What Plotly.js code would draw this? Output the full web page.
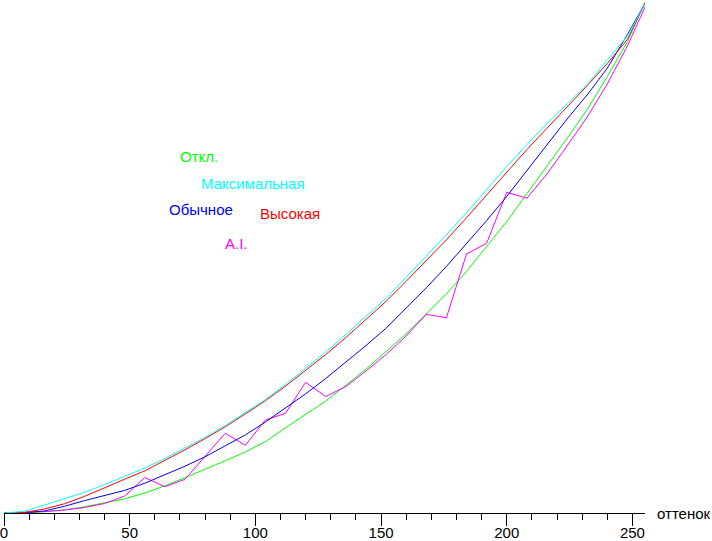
<!DOCTYPE html>
<html>
<head>
<meta charset="utf-8">
<script src="https://cdn.plot.ly/plotly-3.0.1.min.js"></script>
<style>
html,body{margin:0;padding:0;background:#fff;}
#chart{width:712px;height:541px;}
</style>
</head>
<body>
<div id="chart"></div>
<script>
// Input level (оттенок), 0..255
const levels = [0,8,16,24,32,40,48,56,64,72,80,88,96,104,112,120,128,136,144,152,160,168,176,184,192,200,208,216,224,232,240,248,255];

// Output brightness, % of maximum
const otkl = [0,0.04,0.24,0.59,1.22,1.98,2.78,3.92,5.33,6.92,8.51,10.25,11.96,14.0,16.71,19.31,21.96,25.04,28.2,31.67,35.14,39.02,42.96,47.35,52.35,57.16,62.59,67.9,73.45,79.12,85.57,92.41,100.2];
const maksimalnaya = [0,0.33,1.55,2.8,4.06,5.57,7.14,8.82,10.67,12.69,14.84,17.14,19.63,22.25,25.18,28.29,31.57,35.0,38.59,42.06,46.24,50.33,54.55,58.88,63.43,67.94,72.25,76.37,80.2,84.0,88.82,93.53,99.8];
const vysokaya = [0,0.1,0.78,1.8,3.25,4.98,6.63,8.27,10.27,12.39,14.59,16.9,19.43,22.02,24.88,27.9,31.08,34.41,37.94,41.51,45.45,49.45,53.57,57.9,62.35,66.86,71.27,75.43,79.57,83.8,88.14,92.86,99.9];
const obychnoe = [0,0.04,0.39,1.31,2.43,3.49,4.43,5.84,7.49,9.18,11.02,13.1,15.31,17.84,20.53,23.37,26.37,29.53,32.84,36.24,40.12,44.14,48.35,52.76,57.33,62.06,67.06,72.18,77.25,81.98,87.22,93.82,99.9];
const ai = [0,0.1,0.29,0.59,1.08,1.86,3.33,6.96,5.16,6.61,11.08,15.63,13.27,18.24,19.55,25.63,22.84,24.8,27.84,31.08,34.71,38.96,38.29,50.78,52.88,62.88,61.71,66.47,71.96,77.65,84.12,91.57,99.2];

const seriesNames = ["Откл.","Максимальная","Обычное","Высокая","A.I."];
const seriesColors = ["#00ff00","#00ffff","#0000ff","#ff0000","#ff00ff"];
const seriesData = [otkl, maksimalnaya, obychnoe, vysokaya, ai];
// label anchor (level, brightness) for each series name
const labelX = [77.6, 99.1, 78.4, 113.8, 92.3];
const labelY = [70.0, 64.6, 59.6, 58.8, 52.8];

const axisTitle = "оттенок";
const tickVals = [0,50,100,150,200,250];

const FONT = "Liberation Sans, Arial, sans-serif";

// draw order: green, magenta, blue, red, cyan (cyan on top)
const order = [0,4,2,3,1];
const traces = order.map(i => ({
  x: levels, y: seriesData[i], type: "scatter", mode: "lines",
  name: seriesNames[i], line: {color: seriesColors[i], width: 1}, hoverinfo: "skip"
}));

const annotations = seriesNames.map((n,i) => ({
  x: labelX[i], y: labelY[i], xref: "x", yref: "y", text: n, showarrow: false,
  font: {family: FONT, size: 15, color: seriesColors[i]}, xanchor: "center", yanchor: "middle"
}));
annotations.push({
  x: 1, y: 0, xref: "paper", yref: "paper", text: axisTitle, showarrow: false,
  xanchor: "left", yanchor: "middle", xshift: 10,
  font: {family: FONT, size: 15, color: "#000"}
});

const layout = {
  width: 712, height: 541,
  margin: {l: 4, r: 67, t: 0, b: 28},
  paper_bgcolor: "#fff", plot_bgcolor: "#fff",
  showlegend: false,
  font: {family: FONT, size: 15, color: "#000"},
  xaxis: {
    range: [0, 255], showgrid: false, zeroline: false,
    showline: true, linecolor: "#000", linewidth: 1,
    ticks: "outside", ticklen: 12, tickwidth: 1, tickcolor: "#000",
    tickmode: "array", tickvals: tickVals, ticktext: tickVals.map(String),
    tickfont: {family: FONT, size: 15, color: "#000"},
    ticklabelstandoff: -6,
    ticklabeloverflow: "allow",
    minor: {dtick: 10, ticks: "outside", ticklen: 6, tickwidth: 1, tickcolor: "#000", showgrid: false},
    fixedrange: true
  },
  yaxis: {
    range: [0, 513/5.1], visible: false, showgrid: false, zeroline: false, fixedrange: true
  },
  annotations: annotations
};

Plotly.newPlot("chart", traces, layout, {staticPlot: true, displayModeBar: false});
</script>
</body>
</html>
